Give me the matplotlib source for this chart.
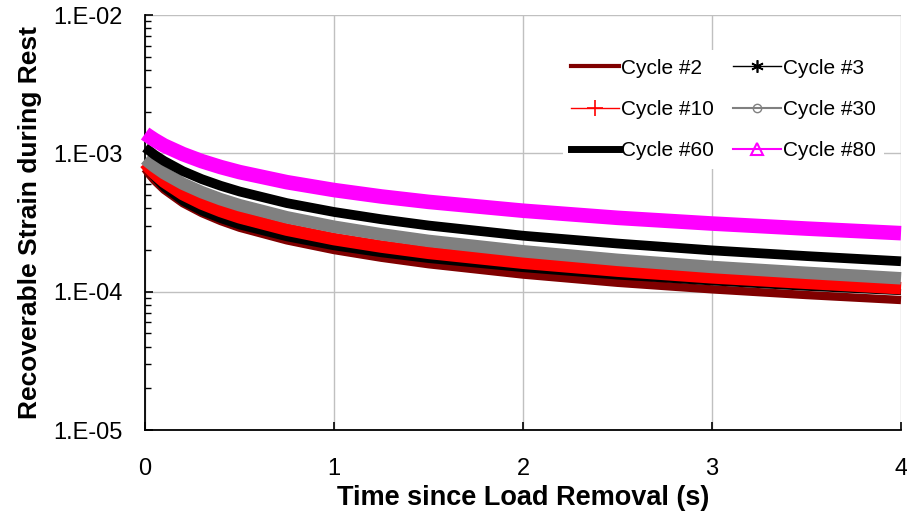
import matplotlib
matplotlib.use("Agg")
import matplotlib.pyplot as plt
from matplotlib.lines import Line2D
from matplotlib.ticker import FuncFormatter, LogLocator, FixedLocator
import numpy as np

plt.rcParams['font.family'] = ['Liberation Sans', 'DejaVu Sans']

# time since load removal (s)
time_s = [0, 0.02, 0.05, 0.1, 0.2, 0.3, 0.4, 0.5, 0.75, 1, 1.25, 1.5, 2, 2.5, 3, 3.5, 4]

# recoverable strain
cycle2 = [7.74e-4, 7.10e-4, 6.35e-4, 5.46e-4, 4.36e-4, 3.70e-4, 3.24e-4, 2.90e-4, 2.35e-4,
          2.00e-4, 1.76e-4, 1.58e-4, 1.33e-4, 1.16e-4, 1.04e-4, 9.46e-5, 8.71e-5]
cycle3 = [8.23e-4, 7.42e-4, 6.54e-4, 5.55e-4, 4.41e-4, 3.74e-4, 3.30e-4, 2.97e-4, 2.44e-4,
          2.10e-4, 1.87e-4, 1.70e-4, 1.46e-4, 1.29e-4, 1.17e-4, 1.07e-4, 9.95e-5]
cycle10 = [8.51e-4, 7.89e-4, 7.15e-4, 6.24e-4, 5.07e-4, 4.34e-4, 3.83e-4, 3.45e-4, 2.81e-4,
           2.40e-4, 2.12e-4, 1.91e-4, 1.62e-4, 1.42e-4, 1.27e-4, 1.16e-4, 1.06e-4]
cycle30 = [9.11e-4, 8.63e-4, 8.02e-4, 7.19e-4, 6.03e-4, 5.24e-4, 4.66e-4, 4.22e-4, 3.45e-4,
           2.95e-4, 2.60e-4, 2.33e-4, 1.96e-4, 1.70e-4, 1.51e-4, 1.37e-4, 1.25e-4]
cycle60 = [1.10e-3, 1.05e-3, 9.76e-4, 8.81e-4, 7.44e-4, 6.51e-4, 5.83e-4, 5.30e-4, 4.37e-4,
           3.77e-4, 3.34e-4, 3.01e-4, 2.54e-4, 2.23e-4, 1.99e-4, 1.81e-4, 1.66e-4]
cycle80 = [1.39e-3, 1.33e-3, 1.25e-3, 1.14e-3, 9.88e-4, 8.78e-4, 7.96e-4, 7.32e-4, 6.19e-4,
           5.43e-4, 4.88e-4, 4.46e-4, 3.85e-4, 3.42e-4, 3.11e-4, 2.86e-4, 2.65e-4]

labels = ["Cycle #2", "Cycle #3", "Cycle #10", "Cycle #30", "Cycle #60", "Cycle #80"]
series = [cycle2, cycle3, cycle10, cycle30, cycle60, cycle80]
colours = ['#800000', 'black', '#FF0000', '#808080', 'black', '#FF00FF']
band_widths = [6, 4.5, 9, 9, 7, 10.5]

fig = plt.figure(figsize=(9.07, 5.12), dpi=100)
ax = fig.add_axes([0.16, 0.16, 0.8334, 0.8107])

for vals, c, w in zip(series, colours, band_widths):
    ax.plot(time_s, vals, color=c, linewidth=w, solid_capstyle='butt',
            solid_joinstyle='round', clip_on=False, zorder=3)

ax.set_yscale('log')
ax.set_ylim(1e-5, 1e-2)
ax.set_xlim(0, 4)
ax.xaxis.set_major_locator(FixedLocator([0, 1, 2, 3, 4]))
ax.yaxis.set_major_locator(LogLocator(base=10))
ax.yaxis.set_minor_locator(LogLocator(base=10, subs=np.arange(2, 10)))
ax.yaxis.set_major_formatter(FuncFormatter(lambda v, p: "1.E-%02d" % round(-np.log10(v))))
ax.yaxis.set_minor_formatter(FuncFormatter(lambda v, p: ""))

ax.grid(True, which='major', color='#C0C0C0', linewidth=1)
ax.set_axisbelow(True)
for s in ['top', 'right']:
    ax.spines[s].set_visible(False)
ax.spines['left'].set_linewidth(1.3)
ax.spines['bottom'].set_linewidth(1.3)

ax.tick_params(axis='both', which='major', direction='in', length=5.5, width=1.2,
               labelsize=17)
ax.tick_params(axis='y', which='minor', direction='in', length=4, width=1)
ax.tick_params(axis='y', which='both', pad=16)
ax.tick_params(axis='x', which='major', pad=20)

ax.set_xlabel("Time since Load Removal (s)", fontsize=19.5, fontweight='bold', labelpad=4)
ax.set_ylabel("Recoverable Strain during Rest", fontsize=19, fontweight='bold', labelpad=8)

# legend proxies, Excel-style row order
handles = [
    Line2D([], [], color='#800000', linewidth=3),
    Line2D([], [], color='black', linewidth=1, marker=(6, 2, 0), markersize=9,
           markeredgewidth=1.2),
    Line2D([], [], color='#FF0000', linewidth=1, marker='+', markersize=11,
           markeredgewidth=1.2),
    Line2D([], [], color='#808080', linewidth=1.5, marker='o', markersize=6,
           markerfacecolor='none', markeredgewidth=1),
    Line2D([], [], color='black', linewidth=5),
    Line2D([], [], color='#FF00FF', linewidth=1.5, marker='^', markersize=8,
           markerfacecolor='none', markeredgewidth=1.5),
]
order = [0, 2, 4, 1, 3, 5]
leg = ax.legend([handles[i] for i in order], [labels[i] for i in order], ncol=2,
                loc='upper left', bbox_to_anchor=(0.539, 0.94), fontsize=15,
                frameon=True, edgecolor='none', facecolor='white', framealpha=1,
                fancybox=False, handlelength=2.3, handletextpad=0.1,
                columnspacing=0.9, labelspacing=1.07, borderpad=0.4)
leg.set_zorder(5)

fig.savefig("out.png", dpi=100)
